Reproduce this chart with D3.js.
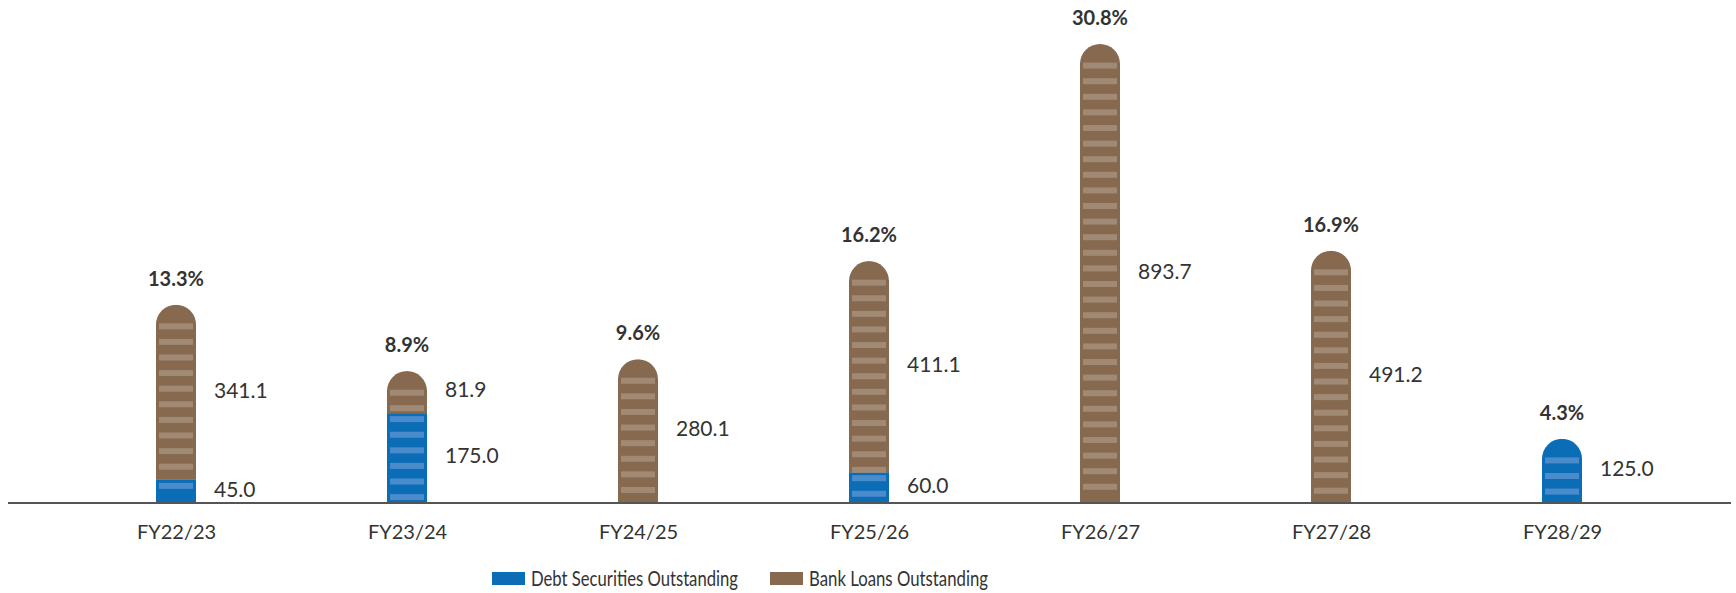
<!DOCTYPE html>
<html>
<head>
<meta charset="utf-8">
<script src="https://cdn.jsdelivr.net/npm/d3@7"></script>
<style>
  body { margin: 0; background: #fff; }
  text { font-family: "Lato", sans-serif; fill: #333; }
</style>
</head>
<body>
<svg id="chart" width="1736" height="593"></svg>
<script>
let categories = ['FY22/23', 'FY23/24', 'FY24/25', 'FY25/26', 'FY26/27', 'FY27/28', 'FY28/29'];
let debtSecurities = [45.0, 175.0, 0, 60.0, 0, 0, 125.0];
let bankLoans = [341.1, 81.9, 280.1, 411.1, 893.7, 491.2, 0];
let growthLabels = ['13.3%', '8.9%', '9.6%', '16.2%', '30.8%', '16.9%', '4.3%'];
let seriesNames = ['Debt Securities Outstanding', 'Bank Loans Outstanding'];

let colors = { debt: '#0b6db6', loans: '#86694f' };
let stripeColors = { debt: '#4a8bcb', loans: '#a08a75' };

let svg = d3.select('#chart');
let baseY = 503;
let barW = 40;
let r = barW / 2;

let x = d3.scalePoint().domain(categories).range([176, 1562]);
let y = d3.scaleLinear().domain([0, 893.7]).range([baseY, 44]);

let rows = categories.map(function(c, i) {
  return { cat: c, debt: debtSecurities[i], loans: bankLoans[i], growth: growthLabels[i] };
});
let stacked = d3.stack().keys(['debt', 'loans'])(rows);

/* Clip paths: bar with rounded top */
let defs = svg.append('defs');
rows.forEach(function(d, i) {
  let cx = x(d.cat);
  let top = y(d.debt + d.loans);
  let p = d3.path();
  p.moveTo(cx - r, baseY);
  p.lineTo(cx - r, top + r);
  p.arc(cx, top + r, r, Math.PI, 0);
  p.lineTo(cx + r, baseY);
  p.closePath();
  defs.append('clipPath').attr('id', 'bar-clip-' + i).append('path').attr('d', p.toString());
});

let bars = svg.append('g');
stacked.forEach(function(layer) {
  let key = layer.key;
  layer.forEach(function(seg, i) {
    if (seg[1] - seg[0] <= 0) return;
    let cx = x(categories[i]);
    let total = rows[i].debt + rows[i].loans;
    let segTop = y(seg[1]);
    let segBot = y(seg[0]);
    let g = bars.append('g').attr('clip-path', 'url(#bar-clip-' + i + ')');
    g.append('rect')
      .attr('x', cx - r).attr('y', segTop)
      .attr('width', barW).attr('height', segBot - segTop)
      .attr('fill', colors[key]);
    let isTop = seg[1] === total;
    for (let sy = segTop + 3; sy + 6 <= segBot + 1; sy += 15.6) {
      if (isTop && sy < segTop + 13) continue;
      g.append('rect')
        .attr('x', cx - r + 3).attr('y', sy)
        .attr('width', barW - 6).attr('height', 6)
        .attr('fill', stripeColors[key]);
    }
    svg.append('text')
      .attr('x', cx + r + 18)
      .attr('y', (segTop + segBot) / 2)
      .attr('dominant-baseline', 'middle')
      .attr('font-size', 21)
      .text(d3.format('.1f')(seg[1] - seg[0]));
  });
});

/* Growth labels */
svg.append('g').selectAll('text').data(rows).enter().append('text')
  .attr('x', function(d) { return x(d.cat); })
  .attr('y', function(d) { return y(d.debt + d.loans) - 19; })
  .attr('text-anchor', 'middle')
  .attr('font-size', 20)
  .attr('font-weight', 'bold')
  .text(function(d) { return d.growth; });

/* Baseline */
svg.append('line')
  .attr('x1', 8).attr('x2', 1731)
  .attr('y1', baseY).attr('y2', baseY)
  .attr('stroke', '#555').attr('stroke-width', 2);

/* Category axis */
let axis = svg.append('g').attr('transform', 'translate(0,' + baseY + ')')
  .call(d3.axisBottom(x).tickSize(0).tickPadding(22));
axis.select('.domain').remove();
axis.selectAll('text').attr('font-size', 20).attr('fill', '#333').style('font-family', '"Lato", sans-serif');

/* Legend */
let legend = svg.append('g');
let legendX = [492, 770];
let legendTextW = [207, 179];
['debt', 'loans'].forEach(function(k, i) {
  legend.append('rect').attr('x', legendX[i]).attr('y', 572).attr('width', 33).attr('height', 13).attr('fill', colors[k]);
  legend.append('text').attr('x', legendX[i] + 39).attr('y', 586).attr('font-size', 21)
    .attr('textLength', legendTextW[i]).attr('lengthAdjust', 'spacingAndGlyphs')
    .text(seriesNames[i]);
});
</script>
</body>
</html>
